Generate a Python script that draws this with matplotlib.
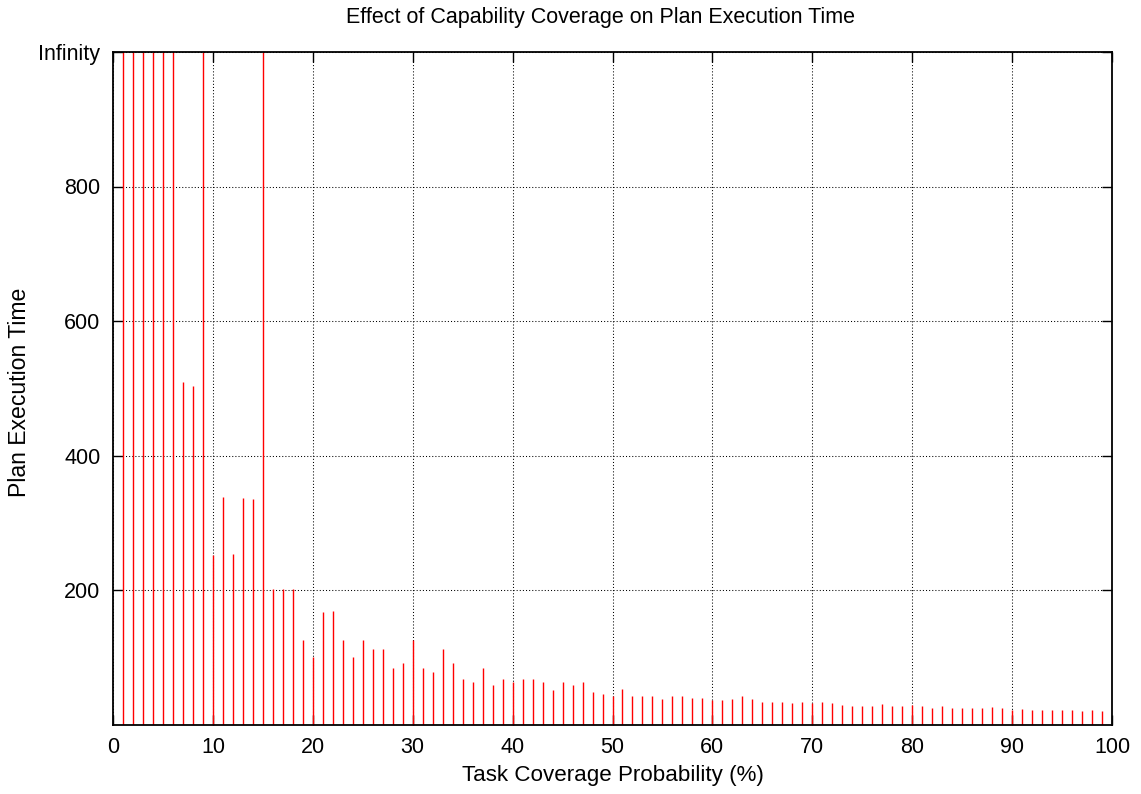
import numpy as np
import matplotlib
matplotlib.use("Agg")
import matplotlib.pyplot as plt

INF = float("inf")
coverage = list(range(1, 100))
exec_time = [
    INF, INF, INF, INF, INF, INF, 510, 503, INF, 252,
    338, 253, 337, 336, INF, 202, 202, 202, 126, 101,
    168, 169, 126, 101, 125, 112, 112, 84, 91, 125,
    84, 78, 112, 91, 67, 63, 84, 58, 67, 63,
    67, 67, 63, 52, 63, 58, 63, 48, 45, 43,
    53, 43, 42, 43, 38, 42, 43, 40, 40, 37,
    37, 38, 42, 38, 34, 33, 33, 32, 34, 32,
    34, 32, 29, 28, 28, 28, 31, 28, 28, 29,
    28, 25, 27, 25, 24, 24, 24, 26, 24, 22,
    23, 22, 22, 22, 22, 21, 20, 21, 20,
]
y_ticks = [200, 400, 600, 800, 1000]
y_tick_labels = ["200", "400", "600", "800", "Infinity"]
x_ticks = list(range(0, 101, 10))

YMAX = 1000
plt.rcParams["font.family"] = ["Liberation Sans", "DejaVu Sans"]

fig = plt.figure(figsize=(11.41, 7.94), dpi=100)
ax = fig.add_axes([113 / 1141, 1 - 724.5 / 794, (1112 - 113) / 1141, (724.5 - 52) / 794])

vals = np.minimum(np.array(exec_time, dtype=float), YMAX)
ax.vlines(coverage, 0, vals, colors="#ff0000", linewidth=1.0, zorder=3)

ax.set_xlim(0, 100)
ax.set_ylim(0, YMAX)
ax.set_xticks(x_ticks)
ax.set_yticks(y_ticks)
ax.set_yticklabels(y_tick_labels)
ax.grid(True, color="black", linestyle=(0, (1, 2)), linewidth=0.75, zorder=1)
ax.tick_params(direction="in", length=7, width=1.0, top=True, right=True,
               labelsize=15.5, pad=9, colors="black")
for s in ax.spines.values():
    s.set_linewidth(1.3)
    s.set_zorder(4)

fig.text(600 / 1141, 1 - 18 / 794,
         "Effect of Capability Coverage on Plan Execution Time",
         ha="center", va="center", fontsize=15.5)
fig.text(612.5 / 1141, 1 - 775 / 794, "Task Coverage Probability (%)",
         ha="center", va="center", fontsize=16.1)
fig.text(20 / 1141, 1 - 392 / 794, "Plan Execution Time", rotation=90,
         ha="center", va="center", fontsize=16.6)

fig.savefig("out.png", dpi=100)
